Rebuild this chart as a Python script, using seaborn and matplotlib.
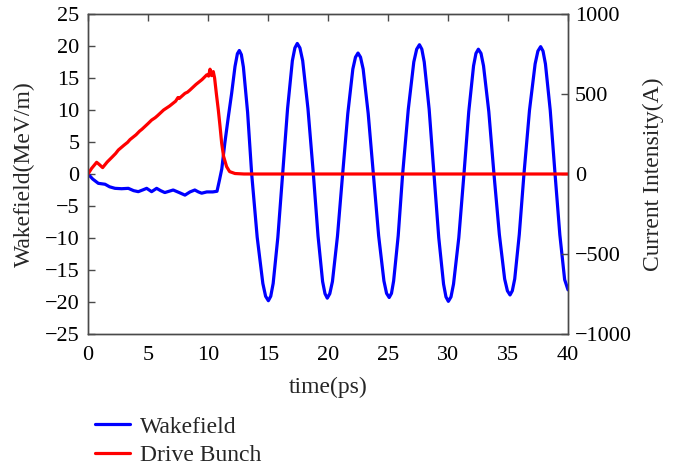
import matplotlib
matplotlib.use("Agg")
import matplotlib.pyplot as plt
import seaborn as sns
import pandas as pd
from matplotlib.lines import Line2D

# ---------------- data ----------------
wake_t = [0, 0.4, 0.86, 1.42, 1.8, 2.25, 2.8, 3.36, 3.8, 4.19, 4.55, 4.89, 5.3, 5.72,
          6.05, 6.4, 6.75, 7.1, 7.6, 8.08, 8.5, 8.9, 9.2, 9.47, 9.9, 10.4, 10.75,
          10.95, 11.15, 11.4, 11.7, 11.97, 12.25, 12.45, 12.61, 12.78,
          12.95, 13.3, 13.64, 14.10, 14.57, 14.80, 15.03, 15.23, 15.43, 15.82, 16.22,
          16.63, 17.03, 17.24, 17.44, 17.66, 17.89, 18.33, 18.78, 19.17, 19.55, 19.75,
          19.94, 20.15, 20.37, 20.79, 21.22, 21.65, 22.07, 22.29, 22.5, 22.71, 22.93,
          23.35, 23.78, 24.22, 24.66, 24.88, 25.1, 25.29, 25.47, 25.85, 26.22,
          26.69, 27.15, 27.39, 27.62, 27.82, 28.02, 28.43, 28.83, 29.23, 29.63, 29.83,
          30.03, 30.25, 30.46, 30.9, 31.33, 31.73, 32.13, 32.33, 32.53, 32.75, 32.96,
          33.4, 33.83, 34.28, 34.72, 34.95, 35.17, 35.36, 35.56, 35.94, 36.33, 36.79,
          37.26, 37.49, 37.72, 37.92, 38.12, 38.52, 38.92, 39.32, 39.72, 40.0]
wake_v = [0, -0.8, -1.46, -1.6, -2.0, -2.24, -2.3, -2.24, -2.6, -2.76, -2.5, -2.24, -2.76, -2.24,
          -2.6, -2.9, -2.7, -2.5, -2.9, -3.3, -2.8, -2.5, -2.8, -3.0, -2.8, -2.8, -2.7,
          -1.0, 0.8, 4.8, 9.0, 12.6, 16.8, 18.8, 19.3, 18.65,
          16.7, 9.65, 0, -9.9, -17.1, -19.1, -19.8, -19.1, -17.1, -9.9, 0,
          10.2, 17.7, 19.7, 20.4, 19.7, 17.7, 10.2, 0, -9.7, -16.8, -18.7,
          -19.4, -18.7, -16.8, -9.7, 0, 9.45, 16.4, 18.25, 18.9, 18.25, 16.4,
          9.45, 0, -9.65, -16.7, -18.65, -19.3, -18.65, -16.7, -9.65, 0,
          10.1, 17.5, 19.5, 20.2, 19.5, 17.5, 10.1, 0, -9.95, -17.2, -19.2,
          -19.9, -19.2, -17.2, -9.95, 0, 9.75, 16.9, 18.85, 19.5, 18.85, 16.9,
          9.75, 0, -9.45, -16.4, -18.25, -18.9, -18.25, -16.4, -9.45, 0, 9.95,
          17.2, 19.2, 19.9, 19.2, 17.2, 9.95, 0, -9.5, -16.5, -18.1]

bunch_t = [0, 0.3, 0.72, 0.9, 1.22, 1.6, 2.0, 2.3, 2.53, 3.0, 3.3, 3.5, 4.0, 4.3, 4.5, 5.0,
           5.3, 5.6, 5.8, 6.3, 6.6, 6.8, 7.3, 7.5, 7.6, 8.08, 8.3, 8.5, 9.0, 9.3, 9.5, 9.9,
           10.05, 10.17, 10.3, 10.44, 10.55, 10.7, 10.86, 11.0, 11.14, 11.3, 11.55, 11.8,
           12.25, 13.0, 40.0]
bunch_i = [0, 35, 73, 62, 40, 75, 105, 128, 150, 180, 198, 215, 245, 268, 280, 315,
           337, 352, 365, 400, 415, 425, 455, 478, 472, 504, 512, 525, 560, 578, 590, 620,
           612, 655, 615, 640, 600, 500, 400, 300, 192, 110, 46, 15,
           3, 0, 0]

xticks = [0, 5, 10, 15, 20, 25, 30, 35, 40]
yticks_left = [-25, -20, -15, -10, -5, 0, 5, 10, 15, 20, 25]
yticks_right = [-1000, -500, 0, 500, 1000]

wake_df = pd.DataFrame({"t": wake_t, "v": wake_v})
bunch_df = pd.DataFrame({"t": bunch_t, "i": bunch_i})

# ---------------- style ----------------
sns.set_style("white")
plt.rcParams["font.family"] = ["Liberation Serif", "DejaVu Serif"]

fig = plt.figure(figsize=(6.89, 4.73), dpi=100)
ax = fig.add_axes([88 / 689, 1 - 334 / 473, 480 / 689, 320 / 473])
ax2 = ax.twinx()

sns.lineplot(data=wake_df, x="t", y="v", ax=ax, color="#0000FF", lw=2.3,
             estimator=None, sort=False)
sns.lineplot(data=bunch_df, x="t", y="i", ax=ax2, color="#FF0000", lw=2.3,
             estimator=None, sort=False)

ax.set_xlim(0, 40)
ax.set_ylim(-25, 25)
ax2.set_ylim(-1000, 1000)
ax.set_xticks(xticks)
ax.set_yticks(yticks_left)
ax2.set_yticks(yticks_right)
ax.set_yticklabels([str(v).replace("-", "\u2212") for v in yticks_left])
ax2.set_yticklabels([str(v).replace("-", "\u2212") for v in yticks_right])

spine_col = "#4a4a4a"
for a in (ax, ax2):
    for s in a.spines.values():
        s.set_color(spine_col)
        s.set_linewidth(1.0)
ax.tick_params(axis="both", direction="in", length=5, width=1, color=spine_col,
               labelsize=16, top=True, labelcolor="black")
ax.tick_params(axis="x", pad=9)
ax.tick_params(axis="y", pad=6, right=False)
ax2.tick_params(axis="y", direction="in", length=5, width=1, color=spine_col,
                labelsize=16, pad=5, labelcolor="black")

ax.set_xlabel("time(ps)", fontsize=17)
ax.set_ylabel("Wakefield(MeV/m)", fontsize=17)
ax2.set_ylabel("Current Intensity(A)", fontsize=17, rotation=90)
ax.xaxis.set_label_coords(0.5, -0.135)
ax.yaxis.set_label_coords(-0.110, 0.5)
ax2.yaxis.set_label_coords(1.155, 0.5)

handles = [Line2D([], [], color="#0000FF", lw=2.3), Line2D([], [], color="#FF0000", lw=2.3)]
fig.legend(handles, ["Wakefield", "Drive Bunch"], loc="upper left",
           bbox_to_anchor=(0.118, 0.15), frameon=False, fontsize=17,
           handlelength=1.45, handletextpad=0.45, labelspacing=0.3, borderpad=0.1)

fig.savefig("out.png", dpi=100)
